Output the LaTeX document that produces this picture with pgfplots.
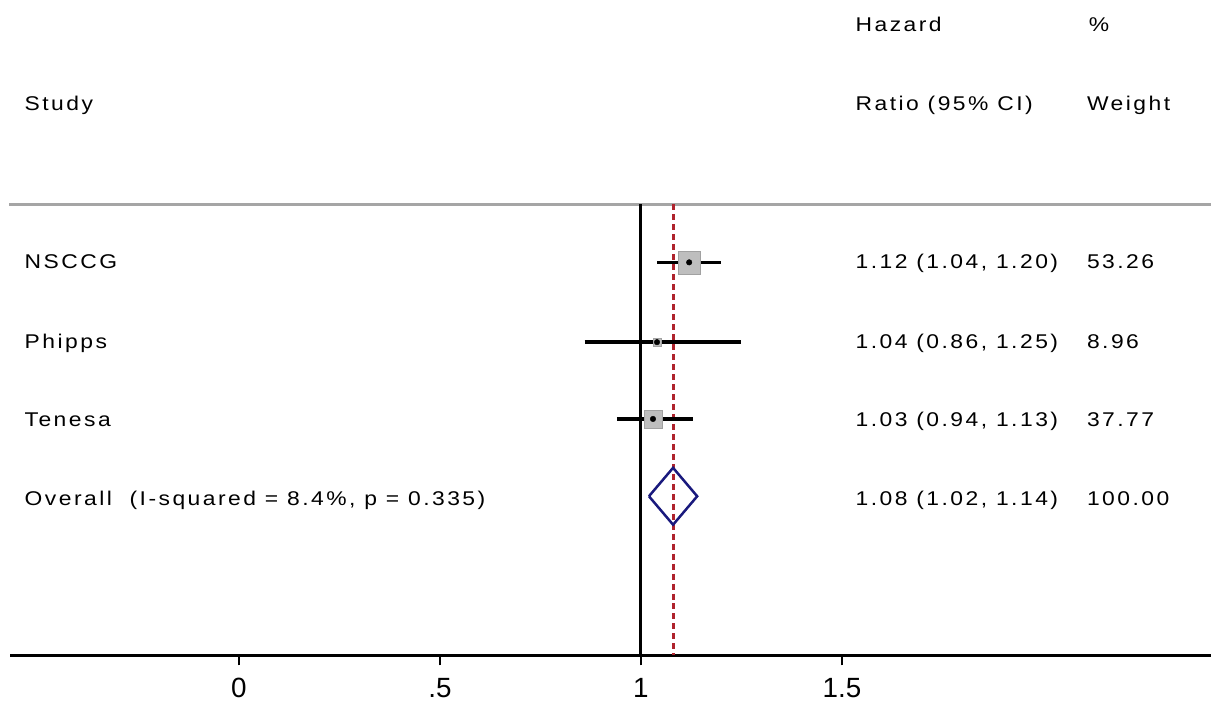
\documentclass[border=0pt]{standalone}
\usepackage{fontspec}
\setmainfont{Liberation Sans}[FakeStretch=1.15,LetterSpace=12.5]
\newfontfamily\tickfont{Liberation Sans}
\usepackage{pgfplots}
\pgfplotsset{compat=1.18}
\definecolor{refline}{RGB}{175,35,45}
\definecolor{diam}{RGB}{25,25,125}
\definecolor{boxgray}{RGB}{190,190,190}
\definecolor{rulegray}{RGB}{165,165,165}
\tikzset{lab/.style={anchor=base west, inner sep=0pt, font=\fontsize{20}{24}\selectfont}}
\begin{document}
\begin{tikzpicture}
\begin{axis}[
  scale only axis, width=1212bp, height=657bp,
  xmin=-0.5906, xmax=2.4169, ymin=0, ymax=657,
  axis x line*=bottom, axis y line=none,
  x axis line style={-, line width=3bp, black, shorten <=9bp},
  xtick={0,0.5,1,1.5}, xticklabels={0,.5,1,1.5},
  /pgf/number format/assume math mode=true,
  tick align=outside, major tick length=10bp,
  xtick style={line width=2.5bp, black},
  xticklabel style={font=\tickfont\fontsize{28}{30}\selectfont, anchor=base, yshift=-32.5bp},
  clip=false,
]
% frame of the picture: full width, from 50 below the axis line to the top
\addplot[draw=none] coordinates {(-0.5906,-50) (2.4169,657)};
% header rule and reference lines
\addplot[rulegray, line width=3bp] coordinates {(-0.5707,452) (2.4169,452)};
\addplot[black, line width=3bp] coordinates {(1,452) (1,0)};
\addplot[refline, line width=3bp, dash pattern=on 6bp off 4bp] coordinates {(1.08,452) (1.08,0)};
% weight boxes
\addplot[only marks, mark=square*, mark size=11.5, mark options={fill=boxgray, draw=boxgray!85!black}] coordinates {(1.12,394)};
\addplot[only marks, mark=square*, mark size=4, mark options={fill=boxgray, draw=boxgray!85!black}] coordinates {(1.04,314)};
\addplot[only marks, mark=square*, mark size=9, mark options={fill=boxgray, draw=boxgray!85!black}] coordinates {(1.03,237)};
% confidence intervals
\addplot[black, line width=3.5bp] coordinates {(1.04,394) (1.20,394)};
\addplot[black, line width=3.5bp] coordinates {(0.86,314) (1.25,314)};
\addplot[black, line width=3.5bp] coordinates {(0.94,237) (1.13,237)};
% point estimates
\addplot[only marks, mark=*, mark size=2.8, black] coordinates {(1.12,394) (1.04,314) (1.03,237)};
% overall diamond
\addplot[diam, line width=2.5bp] coordinates {(1.02,159.5) (1.08,188) (1.14,159.5) (1.08,131) (1.02,159.5)};
% text
\node[lab] at (axis cs:1.5335,625) {Hazard};
\node[lab] at (axis cs:2.1141,625) {\%};
\node[lab] at (axis cs:-0.5335,546) {Study};
\node[lab] at (axis cs:1.5335,546) {Ratio (95\% CI)};
\node[lab] at (axis cs:2.1092,546) {Weight};
\node[lab] at (axis cs:-0.5335,388) {NSCCG};
\node[lab] at (axis cs:-0.5335,308) {Phipps};
\node[lab] at (axis cs:-0.5335,229) {Tenesa};
\node[lab] at (axis cs:-0.5335,150) {Overall\ \ (I-squared = 8.4\%, p = 0.335)};
\node[lab] at (axis cs:1.5335,388) {1.12 (1.04, 1.20)};
\node[lab] at (axis cs:1.5335,308) {1.04 (0.86, 1.25)};
\node[lab] at (axis cs:1.5335,229) {1.03 (0.94, 1.13)};
\node[lab] at (axis cs:1.5335,150) {1.08 (1.02, 1.14)};
\node[lab] at (axis cs:2.1092,388) {53.26};
\node[lab] at (axis cs:2.1092,308) {8.96};
\node[lab] at (axis cs:2.1092,229) {37.77};
\node[lab] at (axis cs:2.1092,150) {100.00};
\end{axis}
\end{tikzpicture}
\end{document}
